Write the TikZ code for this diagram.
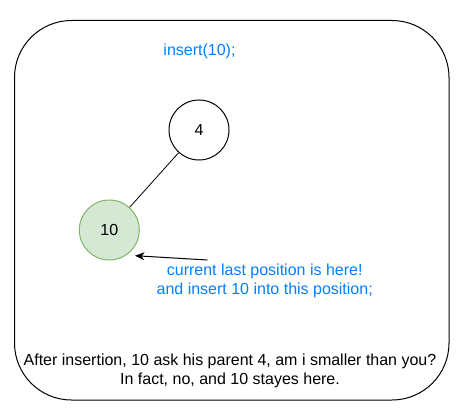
\documentclass[tikz,border=0pt]{standalone}
\usepackage{fontspec}
\setmainfont{Liberation Sans}
\usepackage{tikz}
\usetikzlibrary{arrows.meta}

\definecolor{noteblue}{HTML}{007FFF}
\definecolor{leaffill}{HTML}{D5E8D4}
\definecolor{leafdraw}{HTML}{82B366}

\begin{document}
\begin{tikzpicture}[x=0.75pt,y=-0.75pt,line width=0.75pt,
  vertex/.style={circle,draw,minimum size=45pt,inner sep=0pt,font=\fontsize{12}{14.4}\selectfont},
  note/.style={align=center,font=\fontsize{12}{14.4}\selectfont}]
\useasboundingbox (0,0) rectangle (466,413);

% Draw the outer frame.
\draw[rounded corners=42.75pt] (14.5,20.5) rectangle (449,400);

\node [note,color=noteblue] (call) at (199.5,51.5) {insert(10);};

% Draw the two nodes of the heap, and the edge.
\node [vertex] (n4) at (199,130) {4};
\node [vertex,fill=leaffill,draw=leafdraw] (n10) at (109.3,230) {10};
\draw[line width=0.6pt] (n4) -- (n10);

% Draw the pointer to the last position.
\coordinate (tail) at (207.3,260);
\coordinate (tip) at (135,255.7);
\draw[-{Stealth[length=7pt,width=6pt,inset=2pt]}] (tail) -- (tip);

\node [note,color=noteblue] (last) at (264.7,281) {current last position is here!\\and insert 10 into this position;};
\node [note] (after) at (230,371) {After insertion, 10 ask his parent 4, am i smaller than you?\\In fact, no, and 10 stayes here.};
\end{tikzpicture}
\end{document}
